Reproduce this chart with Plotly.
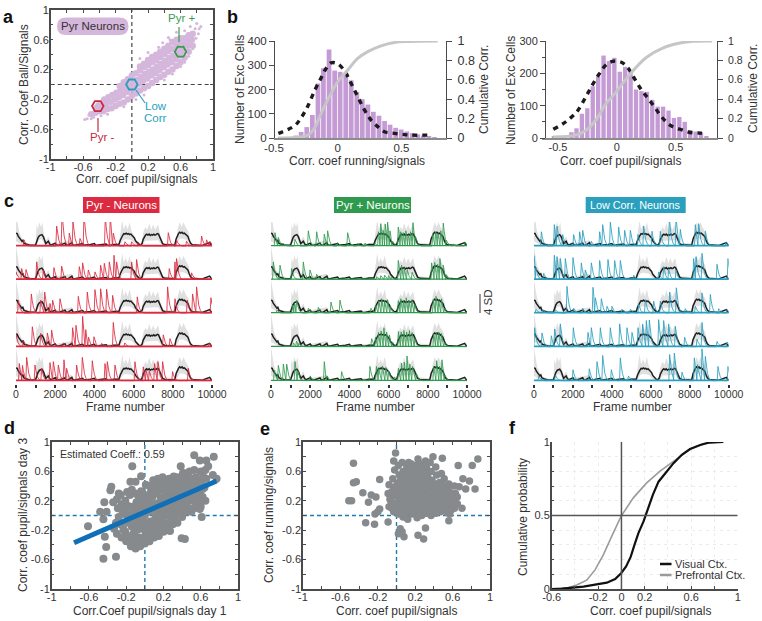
import plotly.graph_objects as go

W, H = 762, 621
FONT = "Liberation Sans"
INK = "#333333"
AXC = "#4a4a4a"
PURPLE = "#d6b7dc"
BAR = "#c59bd6"
RED = "#dc2a40"
GREEN = "#2e9a4e"
BLUE = "#2a9fbe"

# ---------- panel a ----------
a_core = [(-.5,-.4),(-.45,-.38),(-.44,-.32),(-.4,-.36),(-.41,-.28),(-.35,-.36),(-.36,-.28),(-.34,-.2),(-.3,-.33),(-.31,-.25),(-.29,-.17),
 (-.25,-.32),(-.26,-.23),(-.24,-.14),(-.2,-.29),(-.21,-.2),(-.19,-.11),(-.15,-.26),(-.16,-.17),(-.14,-.08),(-.15,-.02),(-.1,-.24),(-.11,-.14),(-.09,-.05),(-.1,.03),
 (-.05,-.2),(-.06,-.1),(-.04,-.01),(-.05,.07),(0,-.15),(-.01,-.06),(.01,.03),(0,.12),(.05,-.12),(.04,-.03),(.06,.06),(.05,.15),(.1,-.08),(.09,.01),(.11,.1),(.1,.19),(.1,.24),
 (.15,-.05),(.14,.05),(.16,.14),(.15,.23),(.15,.28),(.2,-.02),(.19,.08),(.21,.17),(.2,.26),(.2,.33),(.25,.02),(.24,.12),(.26,.2),(.25,.3),(.25,.37),(.3,.06),(.29,.15),(.31,.24),(.3,.33),(.3,.4),
 (.35,.1),(.34,.19),(.36,.28),(.35,.37),(.35,.44),(.4,.13),(.39,.23),(.41,.32),(.4,.41),(.4,.48),(.45,.17),(.44,.27),(.46,.36),(.45,.45),(.45,.52),(.5,.2),(.49,.3),(.51,.39),(.5,.48),(.5,.57),
 (.55,.25),(.54,.34),(.56,.43),(.55,.52),(.55,.6),(.6,.3),(.59,.39),(.61,.48),(.6,.57),(.6,.62),(.65,.36),(.64,.45),(.66,.54),(.65,.62),(.7,.44),(.69,.52),(.71,.6),(.7,.66),(.75,.52),(.74,.6),(.75,.68)]
a_edge = [(-.58,-.47),(-.55,-.46),(-.53,-.41),(-.5,-.46),(-.47,-.44),(-.43,-.27),(-.38,-.42),(-.3,-.4),(.1,.35),(.2,.43),(.33,.5),(.38,.56),(.45,.63),(.47,.6),(.55,.7),
 (.65,.72),(.72,.78),(.78,.75),(.8,.82),(.83,.75),(.85,.78),(.82,.68),(.79,.62),(.75,.48),(.7,.38),(.65,.3),(.6,.24),(.5,.14),(.4,.06),(.15,-.14),(.05,-.2),(-.1,-.3)]
a_red, a_blue, a_green = (-.42, -.29), (0, 0), (.6, .44)
a_ticks = [-1, -.6, -.2, .2, .6, 1]
a_minor = [-.8, -.4, 0, .4, .8]
a_ticklabels = ["-1", "-0.6", "-0.2", "0.2", "0.6", "1"]

# ---------- panel b ----------
b1_bin = [-.33,-.287,-.243,-.199,-.155,-.112,-.068,-.024,.019,.063,.106,.15,.193,.237,.28,.324,.368,.411,.455,.498,.542,.585,.629,.672,.716,.76]
b1_cnt = [10,25,45,95,225,288,365,278,273,265,238,190,160,138,108,92,70,55,42,35,27,20,15,10,6,3]
b1_fit_x = [-.466,-.34,-.29,-.236,-.178,-.13,-.09,-.052,0,.052,.105,.157,.21,.262,.314,.366,.445,.524,.576,.733]
b1_fit_y = [19,50,81,130,199,248,288,310,306,278,226,171,116,74,47,26,19,14,12,12]
b1_cum_x = [-.47,-.236,-.183,-.13,-.079,0,.079,.157,.236,.34,.445,.55,.785]
b1_cum_y = [0,.03,.1,.255,.39,.58,.70,.82,.89,.95,.985,.995,1]
b2_bin = [-.535,-.491,-.447,-.386,-.343,-.297,-.251,-.205,-.159,-.113,-.067,-.021,.025,.071,.117,.163,.209,.255,.301,.347,.393,.439,.485,.531,.577,.623,.669,.715,.761]
b2_cnt = [4,5,5,18,30,75,92,160,190,255,238,248,205,220,205,150,145,143,118,97,97,85,62,65,50,25,20,18,5]
b2_fit_x = [-.54,-.454,-.397,-.34,-.267,-.21,-.152,-.095,-.037,.034,.092,.149,.207,.264,.322,.379,.451,.537,.624,.71,.767]
b2_fit_y = [27,45,61,81,125,163,197,225,237,235,218,184,150,123,95,66,40,27,17,15,14]
b2_cum_x = [-.54,-.353,-.267,-.181,-.095,-.009,.106,.25,.394,.537,.652,.81]
b2_cum_y = [.01,.03,.075,.18,.35,.47,.65,.83,.93,.98,.997,1]

# ---------- panel c : shared mean trace and its spread (SD units vs frame) ----------
mean_x = [0,60,120,200,300,350,400,500,700,1000,1060,1120,1200,1260,1320,1400,1460,1520,1650,1720,1800,2000,2060,2200,2350,2500,2560,2650,2850,2900,3000,3200,3400,3460,3600,3800,4000,4060,4200,4400,4600,4660,4800,5000,5250,
 5320,5380,5440,5500,5560,5620,5680,5740,5800,5860,5920,5980,6040,6100,6160,6250,6350,6430,6490,6550,6610,6670,6730,6790,6850,6910,6970,7030,7090,7150,7210,7270,7330,7400,7480,7600,8100,8170,8230,8290,8350,8410,8470,8530,8590,8650,8710,8770,8830,8900,9000,9200,9500,9880,9920,9960,10000]
mean_y = [2.7,2.6,2.0,1.6,1.0,1.2,.6,.4,.15,.2,1.3,1.7,2.2,2.3,2.4,1.9,1.0,.5,1.0,.4,.2,.6,.2,.15,.35,.6,.15,.15,.7,.2,.15,.3,.5,.15,.15,.3,.5,.15,.2,.35,.4,.15,.1,.3,.3,
 1.2,1.9,2.2,2.6,2.5,2.7,2.5,2.6,2.4,2.5,2.2,1.8,1.7,1.1,.8,.4,.15,.5,1.4,1.9,2.3,2.5,2.3,2.5,2.2,2.4,2.3,2.5,2.3,2.4,2.6,2.5,1.8,1.1,.5,.25,.15,1.5,2.3,2.6,2.9,2.7,2.9,2.6,2.7,2.4,2.2,2.0,1.3,.6,.25,.15,.1,.7,.3,.2,.1]
band_x = [0,40,100,160,260,400,520,900,1000,1050,1120,1180,1280,1350,1420,1500,1650,1800,2850,3000,5250,5340,5420,5500,5600,5700,5800,5900,6000,6100,6300,6400,6500,6600,6700,6800,6900,7000,7100,7250,7350,7500,8150,8250,8350,8450,8550,8650,8800,8900,9050,10000]
band_hi = [7,6,4,3,2,1,.7,.3,.8,4.5,3.5,5,4,5,2.6,1,2,.4,1.2,.2,.6,3.2,5.5,3.5,4.5,3.5,5,3,2.4,1.2,.3,.7,3,4,3.4,4.8,3.4,4.5,3.4,4.5,2.5,.7,.5,3.5,5,4,5,4,3,1,.3,.1]
band_lo = [1,1,.8,.6,.4,.1,.1,0,0,.4,.8,1.2,1.4,1.2,.6,.1,.2,0,0,0,0,.4,1,1.3,1.4,1.4,1.3,1.2,.8,.3,0,0,.4,1.1,1.2,1.2,1.2,1.2,1.2,1.2,.6,.1,0,.7,1.5,1.5,1.5,1.3,.9,.2,0,0]
row_offsets = [29.05, 22.0, 14.95, 7.85, 0.7]
baseline_x = [0, 10000]
baseline_y = [.08, .08]
frame_ticks = [0, 2000, 4000, 6000, 8000, 10000]
frame_labels = ["0", "2000", "4000", "6000", "8000", "10000"]
frame_minor = [1000, 3000, 5000, 7000, 9000]

# peaks: (frame, height in SD)
red_rows = [
 [(408,1.3),(2074,4.2),(2346,7),(2720,2.7),(2907,5.1),(3264,1.6),(3468,6.5),(4556,6.3),(4811,6.5),(4964,2.7),(5560,.9),(5900,.9),(6240,.8),(7769,2.8),(8194,1.2),(8700,1),(9469,2.1),(9724,1.3),(9894,1)],
 [(0,1.6),(290,2.3),(510,2.1),(1054,3.7),(1394,2),(1938,2.5),(2330,2.8),(3230,2.7),(3400,3.5),(3690,2),(4030,1.6),(4318,3),(4505,3.4),(4760,3.7),(5000,5.1),(5134,3.7),(5900,3.7),(6154,4.2),(7820,2.3),(8110,3.7),(8194,4.4),(8960,1.4)],
 [(120,2.7),(782,4),(1258,2.7),(1462,4.4),(1734,2),(1870,2.7),(2244,3),(3180,3.5),(3638,4.4),(4029,4.9),(4318,5.1),(4624,5),(4930,3.7),(6188,3.4),(7735,5.5),(8109,3),(8738,2.7),(9010,4),(9214,5.5),(9945,3.2)],
 [(0,2.8),(374,1.4),(833,4.2),(1258,2.8),(1598,2.9),(1819,3.5),(2414,.8),(2890,4),(3060,4.5),(3400,6.4),(3560,3.6),(3700,2),(3978,2.1),(4369,.7),(4964,5.1),(5550,.8),(7514,2.5),(7854,1.7),(9860,.7)],
 [(170,3.6),(330,3.2),(544,4.9),(969,3.3),(1309,2.6),(1734,3.8),(1904,4),(2159,3.3),(2448,4.4),(2584,2.6),(3094,3.3),(3383,4.9),(3893,4.2),(4539,3.6),(4658,4),(5049,3.3),(6069,4),(6494,2.9),(6640,2.2),(6800,2),(7070,3.6),(7242,4),(7480,4),(7990,1.9),(8789,2.6)],
]
green_rows = [
 [(204,2.8),(374,1.8),(600,.6),(1224,1.4),(1904,3.2),(2329,3),(2720,2.5),(2890,3.2),(3400,.7),(3910,2.8),(4400,.5),(4800,.6),(5300,.6),(5480,3),(5600,4.7),(5720,3.3),(5830,4.6),(5950,5),(6070,3.2),(6200,1),(6494,4),(6620,3),(6750,2.8),(6880,3.2),(7000,2.4),(7120,3),(7242,4.9),(7370,2),(8250,2.5),(8400,3),(8520,2.6),(8660,3.2),(8789,4.8),(8950,1.2),(9300,.4),(9900,.8)],
 [(119,3.7),(459,3),(1054,2.3),(1649,3.7),(1989,2),(2329,1.1),(5400,.6),(5600,.8),(5800,.9),(6000,.8),(6150,.6),(6494,4),(6660,3),(6800,2.4),(6950,2),(7200,1.5),(8194,3.5),(8350,3.6),(8500,3.2),(8619,4.4),(8789,3),(8950,1)],
 [(300,.6),(1100,1.6),(1200,2),(1309,2.7),(1904,1),(2414,1.2),(3060,2.3),(3519,2.7),(5100,1),(5350,1.6),(5500,2.6),(5650,3),(5800,2.5),(5950,2.8),(6100,1.4),(6494,2.6),(6620,3),(6760,2.6),(6900,3.2),(7040,2.6),(7180,2.8),(7330,1.8),(8280,2.8),(8420,3.5),(8560,2.6),(8700,3),(8850,1)],
 [(1150,.8),(1300,1.2),(1420,.7),(5134,1.7),(5330,2),(5480,3),(5620,3.3),(5760,4),(5900,3.1),(6040,2.5),(6200,1),(6500,3.2),(6640,3.1),(6780,3.4),(6920,3.1),(7060,3.4),(7200,3),(7340,1.7),(8300,2.6),(8430,3),(8560,3.1),(8700,2.8),(8850,.9)],
 [(170,2.2),(374,3.2),(629,3.5),(799,3.5),(1224,4),(1370,2.2),(2000,1),(2720,4),(2860,1),(3604,1.9),(5049,3),(5380,3),(5500,2.6),(5680,3.1),(5850,2.8),(6000,2),(6300,.8),(6500,2.6),(6660,3.7),(6800,3.9),(6939,5.2),(7080,3.5),(7220,3),(7420,1.5),(8300,3),(8450,4.2),(8600,3),(8720,4.4),(8870,1.2)],
]
blue_rows = [
 [(377,3),(1044,4.5),(1181,4.2),(1472,2.4),(2037,2.4),(2345,3),(2500,3.3),(2945,1),(3373,3),(3527,4.5),(3920,5),(4348,4),(4657,3.3),(4948,3.3),(5341,2.4),(5632,4.2),(6060,3.1),(6488,3.1),(6950,6),(7293,6),(7515,3.5),(8286,4.5),(8457,4.7),(8800,3.1),(9860,.8)],
 [(0,5),(100,2.5),(496,1.3),(1044,5.1),(1181,4.8),(1352,4.4),(1609,4.4),(2003,4.6),(2431,3.5),(2636,2),(2945,3.5),(3373,4),(3800,4.2),(4143,4),(4434,4),(5119,.9),(6403,1.6),(6660,2.7),(6916,2.1),(7293,2),(8200,4.4),(8320,4.8),(8628,5.5),(9400,3.2),(9964,4.4)],
 [(100,.8),(445,.7),(1100,.7),(1695,5.6),(2037,1),(2500,1),(3030,5.4),(3150,3.2),(3458,3),(3750,1.4),(4005,1.4),(4520,.8),(4950,.8),(5375,1.8),(5717,2.8),(6146,2.5),(6488,2.5),(6967,4.4),(7310,5.3),(7770,.9),(8286,1.4),(8628,4.2),(9056,3.9),(9484,.9),(9912,.7)],
 [(34,4),(410,2.9),(890,2.3),(1061,3.7),(1352,4.8),(2020,4),(2773,3),(2945,4),(3407,4),(3920,4),(4400,4.8),(4776,4),(5033,3),(5341,4),(5580,4.8),(5770,5.5),(5923,5.6),(6403,5.7),(6660,5.5),(6916,4.8),(7259,4.3),(7738,2),(8371,1.6),(8628,5.1),(9400,1.1),(9912,1)],
 [(240,.9),(1096,1.2),(2003,2.3),(2841,2.5),(3236,4),(3527,5.3),(3972,2.3),(4434,4.8),(4850,1),(6967,5.5),(7207,5.8),(7600,1.8),(8234,4.8),(8400,3.4),(8628,6.7),(8800,5.1),(9450,3),(9964,3)],
]

# ---------- panel d ----------
d_core = [(-.3,-.25),(-.31,-.1),(-.29,.1),(-.3,.22),(-.28,.3),(-.25,-.3),(-.26,-.12),(-.24,.02),(-.25,.15),(-.26,.28),(-.2,-.35),(-.21,-.22),(-.19,-.1),(-.2,.05),(-.21,.2),(-.19,.32),
 (-.15,-.42),(-.16,-.3),(-.14,-.15),(-.15,0),(-.13,.12),(-.16,.28),(-.14,.35),(-.1,-.45),(-.11,-.33),(-.09,-.2),(-.1,-.08),(-.12,.05),(-.09,.18),(-.1,.3),(-.05,-.42),(-.06,-.3),(-.04,-.18),(-.05,-.05),(-.03,.1),(-.06,.22),(-.04,.33),
 (0,-.38),(.01,-.25),(-.01,-.12),(0,0),(.02,.13),(-.01,.25),(.01,.42),(.05,-.35),(.04,-.22),(.06,-.08),(.05,.05),(.03,.18),(.06,.3),(.05,.4),(.1,-.3),(.09,-.18),(.11,-.05),(.1,.1),(.08,.25),(.11,.38),(.09,.48),
 (.15,-.28),(.14,-.12),(.16,.03),(.15,.17),(.13,.3),(.16,.44),(.14,.5),(.2,-.22),(.19,-.08),(.21,.06),(.2,.2),(.18,.35),(.21,.47),(.19,.52),(.25,-.15),(.24,0),(.26,.12),(.25,.25),(.23,.38),(.26,.5),
 (.3,-.12),(.29,.02),(.31,.15),(.3,.3),(.28,.42),(.31,.53),(.35,-.1),(.34,.05),(.36,.2),(.35,.33),(.33,.45),(.4,-.02),(.39,.1),(.41,.22),(.4,.38),(.38,.5),(.41,.58),(.45,.05),(.44,.15),(.46,.3),(.45,.42),(.43,.55),
 (.5,.05),(.49,.2),(.51,.32),(.5,.45),(.48,.6),(.55,.15),(.54,.28),(.56,.4),(.55,.52),(.53,.62),(.6,.12),(.59,.3),(.61,.45),(.6,.6),(.65,.2),(.64,.38),(.66,.5),(.65,.62)]
d_fill = [(-.33,-.18),(-.34,.18),(-.28,-.02),(-.23,-.19),(-.23,.09),(-.18,-.02),(-.18,.13),(-.18,-.28),(-.13,-.37),(-.12,-.24),(-.12,-.07),(-.07,-.38),(-.07,-.13),(-.07,0),(-.08,.1),(-.07,.27),(-.02,-.33),(-.02,-.07),(-.02,.04),(-.02,.18),(-.02,.3),
 (.03,-.3),(.03,-.16),(.03,.08),(.03,.24),(.08,-.25),(.08,-.12),(.07,.15),(.07,.35),(.12,-.24),(.12,0),(.12,.16),(.12,.32),(.12,.44),(.17,-.17),(.18,-.02),(.17,.12),(.17,.24),(.17,.38),(.22,-.14),(.23,.12),(.22,.28),(.23,.43),
 (.27,-.08),(.27,.06),(.27,.18),(.27,.32),(.27,.45),(.32,-.04),(.33,.1),(.32,.23),(.33,.37),(.33,.52),(.37,.03),(.38,.14),(.38,.27),(.37,.4),(.37,.52),(.43,.08),(.43,.18),(.43,.35),(.43,.47),(.47,.1),(.48,.24),(.47,.36),(.47,.5),(.53,.1),(.53,.24),(.53,.38),(.52,.5),(.58,.2),(.57,.35),(.58,.47),(.62,.25),(.62,.36),(.63,.52)]
d_out = [(-.135,.67),(-.04,.535),(-.1,.46),(-.155,.46),(-.36,.39),(-.37,.345),(-.435,.18),(-.48,.05),(-.41,.05),(-.445,-.05),(-.61,-.145),(-.43,-.29),(-.415,-.43),(-.445,-.59),(-.31,-.56),
 (.395,-.31),(.43,-.32),(.27,-.21),(.61,-.02),(.59,.09),(.53,.82),(.59,.75),(.66,.75),(.74,.8),(.385,.67),(.68,.67),(.73,.55),(.77,.5)]
d_fit_x = [-.76, .77]
d_fit_y = [-.37, .47]

# ---------- panel e ----------
e_core = [(-.08,.12),(-.07,.22),(-.09,.3),(-.08,.42),(-.03,.05),(-.04,.16),(-.02,.27),(-.03,.38),(-.04,.5),(-.02,.62),(.02,.02),(.01,.12),(.03,.22),(.02,.33),(.01,.44),(.03,.55),(.02,.68),
 (.07,-.02),(.06,.08),(.08,.18),(.07,.28),(.06,.4),(.08,.5),(.07,.6),(.06,.72),(.12,-.05),(.11,.05),(.13,.15),(.12,.25),(.11,.35),(.13,.46),(.12,.56),(.11,.66),(.13,.72),
 (.17,.02),(.16,.12),(.18,.22),(.17,.32),(.16,.42),(.18,.52),(.17,.62),(.16,.7),(.22,-.03),(.21,.08),(.23,.18),(.22,.28),(.21,.38),(.23,.48),(.22,.58),(.21,.68),(.23,.77),
 (.27,0),(.26,.1),(.28,.2),(.27,.3),(.26,.4),(.28,.5),(.27,.6),(.26,.7),(.32,.03),(.31,.13),(.33,.23),(.32,.33),(.31,.43),(.33,.53),(.32,.65),(.31,.74),
 (.37,0),(.36,.08),(.38,.18),(.37,.28),(.36,.38),(.38,.48),(.37,.6),(.36,.72),(.42,.03),(.41,.12),(.43,.22),(.42,.32),(.41,.42),(.43,.55),(.42,.66),(.47,.05),(.46,.15),(.48,.25),(.47,.35),(.46,.45),(.48,.57),
 (.52,.08),(.51,.18),(.53,.28),(.52,.38),(.51,.5),(.57,.02),(.56,.12),(.58,.22),(.57,.32),(.56,.43),(.62,.1),(.61,.2),(.63,.3),(.62,.4)]
e_fill = [(-.05,.1),(-.06,.2),(-.05,.32),(0,.07),(0,.17),(0,.28),(0,.4),(.04,.05),(.05,.14),(.04,.25),(.05,.35),(.04,.47),(.09,.02),(.09,.12),(.1,.22),(.09,.32),(.1,.42),(.09,.53),(.14,.08),(.14,.19),(.15,.28),(.14,.38),(.15,.5),(.14,.6),
 (.19,.05),(.2,.15),(.19,.25),(.19,.35),(.2,.45),(.19,.56),(.2,.65),(.24,.03),(.25,.14),(.24,.24),(.25,.34),(.24,.44),(.25,.55),(.24,.64),(.29,.06),(.3,.16),(.29,.26),(.3,.37),(.29,.47),(.3,.57),(.3,.68),
 (.34,.07),(.35,.17),(.34,.28),(.35,.42),(.34,.5),(.39,.04),(.4,.13),(.39,.24),(.4,.34),(.39,.44),(.44,.08),(.45,.18),(.44,.29),(.45,.39),(.5,.12),(.49,.22),(.5,.32),(.49,.42),(.54,.04),(.55,.15),(.54,.25),(.55,.35),(.59,.08),(.6,.17),(.59,.28),(.65,.16),(.65,.25)]
e_out = [(-.46,.71),(-.46,.445),(-.43,.46),(-.51,.2),(-.48,.2),(-.36,.31),(-.27,.28),(-.22,.25),(-.3,.18),(-.18,.49),(-.01,.85),(-.03,.74),(-.33,-.1),(-.235,-.12),(-.23,.02),(-.18,.09),(-.2,.05),(-.09,-.09),
 (.04,-.18),(.02,-.25),(.08,-.29),(.06,-.22),(.23,-.27),(.29,-.32),(.31,-.17),(.87,.77),(.81,.68),(.66,.68),(.78,.47),(.84,.36),(.7,.1),(.56,-.07),(.39,.8),(.49,.78),(.71,.5),(.67,.39),(.74,.36)]

# ---------- panel f ----------
f_vis_x = [-.6,-.514,-.327,-.212,-.126,-.054,-.003,.04,.08,.112,.146,.19,.233,.27,.319,.39,.448,.519,.59,.677,.748,.877]
f_vis_y = [0,.002,.016,.034,.043,.068,.107,.153,.22,.3,.38,.46,.563,.64,.73,.8,.856,.913,.952,.98,.995,1]
f_pre_x = [-.6,-.471,-.385,-.299,-.227,-.156,-.084,-.004,.102,.217,.332,.447,.59,.705,.82]
f_pre_y = [0,.005,.027,.06,.13,.232,.358,.494,.62,.722,.802,.87,.95,.988,1]
f_xticks = [-.6,-.4,-.2,0,.2,.4,.6,.8,1]
f_xlabels = ["-0.6","","-0.2","0","0.2","","0.6","","1"]
f_yticks = [0,.1,.2,.3,.4,.5,.6,.7,.8,.9,1]
f_ylabels = ["0","","","","","0.5","","","","","1"]


def dom_x(a, b):
    return [a / W, b / W]

def dom_y(a, b):
    return [1 - b / H, 1 - a / H]

def px(x):
    return x / W

def py(y):
    return 1 - y / H

fig = go.Figure()
layout = dict(template="none", width=W, height=H, margin=dict(l=0, r=0, t=0, b=0, pad=0, autoexpand=False), paper_bgcolor="white", plot_bgcolor="rgba(0,0,0,0)",
              showlegend=False, font=dict(family=FONT, size=12, color=INK))
shapes, notes = [], []

def tickf(size):
    return dict(family=FONT, size=size, color=INK)

def text(t, x, y, size=12, color=INK, angle=0, bold=False, anchor="center"):
    notes.append(dict(text=f"<b>{t}</b>" if bold else t, x=px(x), y=py(y), xref="paper", yref="paper", showarrow=False,
                      xanchor=anchor, yanchor="middle", font=dict(family=FONT, size=size, color=color), textangle=angle))

def seg(x0, y0, x1, y1, color, w=1.2, dash="solid"):
    shapes.append(dict(type="line", xref="paper", yref="paper", x0=px(x0), y0=py(y0), x1=px(x1), y1=py(y1), line=dict(color=color, width=w, dash=dash)))

def framed(vals, labels, minor, dom, anchor, rng, stand):
    return dict(domain=dom, anchor=anchor, range=rng, tickvals=vals, ticktext=labels, ticks="inside", ticklen=3, tickwidth=1, tickcolor=AXC,
                minor=dict(tickvals=minor, ticks="inside", ticklen=3, tickwidth=1, tickcolor=AXC), ticklabelstandoff=stand,
                showline=True, mirror="ticks", linecolor=AXC, linewidth=1.5, showgrid=False, zeroline=False, tickfont=tickf(11), automargin=False)

def pairs(pts):
    return [p[0] for p in pts], [p[1] for p in pts]

def cross(xa, ya, color, w=1.2, dash="dash"):
    for kw in (dict(x0=0, x1=0, y0=-1, y1=1), dict(x0=-1, x1=1, y0=0, y1=0)):
        shapes.append(dict(type="line", xref=xa, yref=ya, line=dict(color=color, width=w, dash=dash), layer="below", **kw))

# a
layout["xaxis"] = framed(a_ticks, a_ticklabels, a_minor, dom_x(50.7, 213), "y", [-1, 1], -3)
layout["yaxis"] = framed(a_ticks, a_ticklabels, a_minor, dom_y(10, 159), "x", [-1, 1], -2)
text("Corr. coef pupil/signals", 136.5, 179)
text("Corr. Coef Ball/Signals", 24, 85, angle=-90)
x, y = pairs(a_core)
fig.add_trace(go.Scatter(x=x, y=y, mode="markers", marker=dict(color=PURPLE, size=6.5), xaxis="x", yaxis="y", name="Pyr neurons"))
x, y = pairs(a_edge)
fig.add_trace(go.Scatter(x=x, y=y, mode="markers", marker=dict(color=PURPLE, size=3), xaxis="x", yaxis="y", name="Pyr neurons"))
cross("x", "y", "#444444", 1.2, "4px,3px")
for pt, c, n in ((a_red, "#c9283f", "Pyr -"), (a_blue, "#2a9dbb", "Low Corr"), (a_green, "#3c9a55", "Pyr +")):
    fig.add_trace(go.Scatter(x=[pt[0]], y=[pt[1]], mode="markers", xaxis="x", yaxis="y", name=n,
                             marker=dict(symbol="hexagon2-open", size=11.5, color=c, line=dict(color=c, width=1.8))))
r = 9
X0, X1, Y0, Y1 = 57, 128.5, 17.5, 35
pill = (f"M {px(X0+r)} {py(Y0)} L {px(X1-r)} {py(Y0)} Q {px(X1)} {py(Y0)} {px(X1)} {py((Y0+Y1)/2)} Q {px(X1)} {py(Y1)} {px(X1-r)} {py(Y1)} "
        f"L {px(X0+r)} {py(Y1)} Q {px(X0)} {py(Y1)} {px(X0)} {py((Y0+Y1)/2)} Q {px(X0)} {py(Y0)} {px(X0+r)} {py(Y0)} Z")
shapes.append(dict(type="path", xref="paper", yref="paper", path=pill, fillcolor=PURPLE, line=dict(width=0), layer="above"))
text("Pyr Neurons", 93, 26, 11.5)
text("Pyr +", 181, 18, 11.5, "#3c9a55")
seg(179, 27, 179, 42, "#3c9a55")
text("Low", 155.5, 106, 11.5, BLUE)
text("Corr", 155.5, 118, 11.5, BLUE)
seg(136, 90, 145, 103, BLUE)
text("Pyr -", 102, 137, 11.5, "#c9283f")
seg(98, 118, 98, 132, "#c9283f")

# b panels
def hist(n, xdom, xrng, left_at, bins, cnt, fx, fy, cx, cy, ymax, lticks, lminor, fs, rfs, rstand):
    xa, ya, yb = f"x{n[0]}", f"y{n[1]}", f"y{n[2]}"
    layout[f"xaxis{n[0]}"] = dict(domain=dom_x(*xdom), anchor=ya, range=xrng, tickvals=[-.5, 0, .5], ticktext=["-0.5", "0", "0.5"], ticks="", ticklabelstandoff=-2, showline=True,
                                  linecolor="#8c8c8c", linewidth=2, showgrid=False, zeroline=False, tickfont=tickf(fs), automargin=False)
    layout[f"yaxis{n[1]}"] = dict(domain=dom_y(41, 138), anchor="free", position=px(left_at), range=[0, ymax], tickvals=lticks, ticks="outside", ticklen=5, tickcolor=AXC,
                                  minor=dict(tickvals=lminor, ticks="outside", ticklen=3, tickcolor=AXC),
                                  showline=True, linecolor=AXC, linewidth=1, showgrid=False, zeroline=False, tickfont=tickf(fs), automargin=False)
    layout[f"yaxis{n[2]}"] = dict(domain=dom_y(41, 138), anchor=xa, overlaying=ya, side="right", range=[0, 1], tickvals=[0, .2, .4, .6, .8, 1], ticktext=["0", "0.2", "0.4", "0.6", "0.8", "1"],
                                  ticks="outside", ticklen=5, tickcolor=AXC, ticklabelstandoff=rstand, showline=True, linecolor=AXC, linewidth=1, showgrid=False, zeroline=False, tickfont=tickf(rfs), automargin=False)
    fig.add_trace(go.Bar(x=bins, y=cnt, marker=dict(color=BAR, line=dict(width=0)), width=.037, xaxis=xa, yaxis=ya, name="Exc cells"))
    fig.add_trace(go.Scatter(x=cx, y=cy, mode="lines", line=dict(color="#c6c6c6", width=3, shape="spline"), xaxis=xa, yaxis=yb, name="Cumulative"))
    fig.add_trace(go.Scatter(x=fx, y=fy, mode="lines", line=dict(color="#1c1c1c", width=3.4, dash="5px,5px", shape="spline"), xaxis=xa, yaxis=ya, name="Fit"))

hist((2, 2, 3), (274, 446), [-.5, .85], 274, b1_bin, b1_cnt, b1_fit_x, b1_fit_y, b1_cum_x, b1_cum_y, 400, [0, 100, 200, 300, 400], [], 11.5, 12.5, 3)
hist((3, 4, 5), (542, 717), [-.636, .851], 545, b2_bin, b2_cnt, b2_fit_x, b2_fit_y, b2_cum_x, b2_cum_y, 300, [0, 100, 200, 300], [50, 150, 250], 11, 10.5, 3)
text("Corr. coef running/signals", 357, 160.5)
text("Number of Exc Cells", 240, 90, angle=-90)
text("Cumulative Corr.", 484, 90, angle=-90)
text("Corr. coef pupil/signals", 620, 160.5)
text("Number of Exc Cells", 511, 90, angle=-90)
text("Cumulative Corr.", 753, 89, angle=-90)

# c panels
def peak_path(peaks):
    shape = [(0, 1), (45, .65), (110, .3), (190, .1), (300, 0)]
    xs, ys = [], []
    for i, (f, h) in enumerate(peaks):
        nxt = peaks[i + 1][0] if i + 1 < len(peaks) else 10**6
        if not xs or xs[-1] < f - 40:
            xs.append(f - 40)
            ys.append(0)
        for dx, k in shape:
            if f + dx < nxt - 40:
                xs.append(f + dx)
                ys.append(k * h)
    if xs[-1] < 10000:
        xs.append(10000)
        ys.append(0)
    return xs, ys

def traces(ix, iy, xdom, rows, color, box, label, base_w, label_size, title_x):
    xa, ya = f"x{ix}", f"y{iy}"
    layout[f"xaxis{ix}"] = dict(domain=dom_x(*xdom), anchor=ya, range=[0, 10000], tickvals=frame_ticks, ticktext=frame_labels, ticks="outside", ticklen=3, tickwidth=1.5, tickcolor="#333333",
                                minor=dict(tickvals=frame_minor, ticks="outside", ticklen=3, tickwidth=1.5, tickcolor="#333333"), ticklabelstandoff=-3,
                                showline=False, showgrid=False, zeroline=False, tickfont=tickf(10.5), automargin=False)
    layout[f"yaxis{iy}"] = dict(domain=dom_y(222, 384), anchor=xa, range=[0, 34.1], visible=False)
    for off, peaks in zip(row_offsets, rows):
        fig.add_trace(go.Scatter(x=band_x + band_x[::-1], y=[off + v for v in band_hi] + [off + v for v in band_lo[::-1]], mode="lines", fill="toself",
                                 fillcolor="#e0e0e0", line=dict(width=0), xaxis=xa, yaxis=ya, name="SD", hoverinfo="skip"))
        fig.add_trace(go.Scatter(x=mean_x, y=[off + v for v in mean_y], mode="lines", line=dict(color="#1e1e1e", width=1.5), xaxis=xa, yaxis=ya, name="Mean"))
        fig.add_trace(go.Scatter(x=baseline_x, y=[off + v for v in baseline_y], mode="lines", line=dict(color=color, width=base_w), xaxis=xa, yaxis=ya, name=label))
        px_, py_ = peak_path(peaks)
        fig.add_trace(go.Scatter(x=px_, y=[off + v for v in py_], mode="lines", line=dict(color=color, width=.85), xaxis=xa, yaxis=ya, name=label))
    shapes.append(dict(type="rect", xref="paper", yref="paper", x0=px(box[0]), x1=px(box[1]), y0=py(213), y1=py(197), fillcolor=color, line=dict(width=0)))
    text(label, (box[0] + box[1]) / 2, 205, label_size, "white")
    text("Frame number", title_x, 407)

traces(4, 6, (16, 212), red_rows, RED, (83, 159.5), "Pyr - Neurons", 1.7, 11.5, 125.7)
traces(5, 7, (271, 467), green_rows, GREEN, (334, 411), "Pyr + Neurons", 1.2, 11.5, 375)
traces(6, 8, (534, 728.7), blue_rows, BLUE, (585.7, 685.7), "Low Corr. Neurons", 1.7, 10.8, 632.5)
seg(480, 294, 480, 313, "#333333", 1)
text("4 SD", 488, 302, 11.5, INK, angle=-90)

# d
layout["xaxis7"] = framed(a_ticks, a_ticklabels, a_minor, dom_x(51.7, 238), "y9", [-1, 1], -3)
layout["yaxis9"] = framed(a_ticks, a_ticklabels, a_minor, dom_y(442, 589), "x7", [-1, 1], -2)
text("Corr.Coef pupil/signals day 1", 150, 610.5)
text("Corr. coef pupil/signals day 3", 23, 515, angle=-90)
x, y = pairs(d_core + d_fill + d_out)
fig.add_trace(go.Scatter(x=x, y=y, mode="markers", marker=dict(color="#868a8c", size=8), xaxis="x7", yaxis="y9", name="Cells"))
cross("x7", "y9", "#1f7ab0", 1.4, "4px,3px")
fig.add_trace(go.Scatter(x=d_fit_x, y=d_fit_y, mode="lines", line=dict(color="#0f70b7", width=5), xaxis="x7", yaxis="y9", name="Fit"))
text("Estimated Coeff.: 0.59", 57.7, 454, 10.6, anchor="left")

# e
layout["xaxis8"] = framed(a_ticks, a_ticklabels, a_minor, dom_x(303, 490), "y10", [-1, 1], -3)
layout["yaxis10"] = framed(a_ticks, a_ticklabels, a_minor, dom_y(442, 589), "x8", [-1, 1], -2)
text("Corr. coef pupil/signals", 396, 610.5)
text("Corr. coef running/signals", 269, 515, angle=-90)
x, y = pairs(e_core + e_fill + e_out)
fig.add_trace(go.Scatter(x=x, y=y, mode="markers", marker=dict(color="#868a8c", size=7.5), xaxis="x8", yaxis="y10", name="Cells"))
cross("x8", "y10", "#1f7ab0", 1.4, "4px,3px")

# f
layout["xaxis9"] = dict(domain=dom_x(551.7, 737.7), anchor="y11", range=[-.6, 1], tickvals=f_xticks, ticktext=f_xlabels, ticks="inside", ticklen=3, tickcolor=AXC, ticklabelstandoff=-3, showline=True, linecolor=AXC, linewidth=1.5,
                        showgrid=True, gridcolor="#ebebeb", griddash="3px,4px", zeroline=False, tickfont=tickf(11), automargin=False)
layout["yaxis11"] = dict(domain=dom_y(442, 589), anchor="x9", range=[0, 1], tickvals=f_yticks, ticktext=f_ylabels, ticks="inside", ticklen=3, tickcolor=AXC, ticklabelstandoff=-2, showline=True, linecolor=AXC, linewidth=1.5,
                         showgrid=True, gridcolor="#ebebeb", griddash="3px,4px", zeroline=False, tickfont=tickf(11), automargin=False)
text("Corr. coef pupil/signals", 650, 610.5)
text("Cumulative probability", 523, 517, angle=-90)
shapes.append(dict(type="line", xref="x9", yref="y11", x0=0, x1=0, y0=0, y1=1, line=dict(color="#555555", width=1.5), layer="above"))
shapes.append(dict(type="line", xref="x9", yref="y11", x0=-.6, x1=1, y0=.5, y1=.5, line=dict(color="#555555", width=1.5), layer="above"))
fig.add_trace(go.Scatter(x=f_pre_x, y=f_pre_y, mode="lines", line=dict(color="#9b9b9b", width=1.6), xaxis="x9", yaxis="y11", name="Prefrontal Ctx."))
fig.add_trace(go.Scatter(x=f_vis_x, y=f_vis_y, mode="lines", line=dict(color="#111111", width=2.2), xaxis="x9", yaxis="y11", name="Visual Ctx."))
seg(660, 564, 671.5, 564, "#111111", 2.5)
seg(660, 575, 671.5, 575, "#9b9b9b", 2.5)
text("Visual Ctx.", 673, 564, 11, anchor="left")
text("Prefrontal Ctx.", 673, 575, 11, anchor="left")

# panel letters
for t, lx, ly in (("a", 8, 17), ("b", 232, 17), ("c", 9, 201), ("d", 9, 428), ("e", 265, 429), ("f", 512, 428)):
    text(t, lx, ly, 18, "#111111", bold=True)

layout["shapes"] = shapes
layout["annotations"] = notes
fig.update_layout(**layout)
fig.write_html("out.html", config={"displayModeBar": False}, post_script="document.body.style.margin='0';")
